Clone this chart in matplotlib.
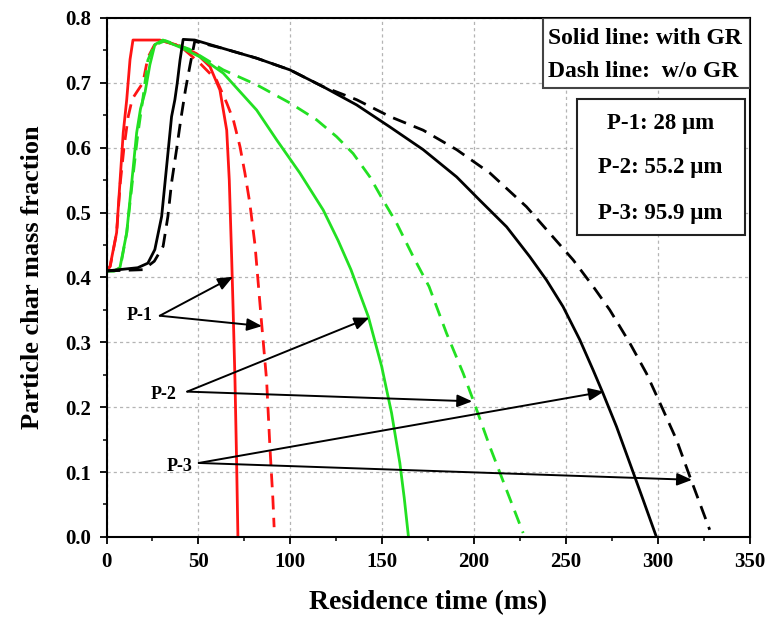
import numpy as np
import matplotlib
matplotlib.use("Agg")
import matplotlib.pyplot as plt
from matplotlib.patches import Rectangle
from matplotlib.ticker import MultipleLocator, FormatStrFormatter

plt.rcParams["font.family"] = ["Liberation Serif", "DejaVu Serif"]
plt.rcParams["font.weight"] = "bold"

# P-1 (red), with GR / w/o GR
p1_solid_t = [0, 1.9, 5.5, 7.3, 9.1, 11, 12.8, 14.4, 29, 41.7, 49, 56.3, 61.7, 65.4, 66.8, 68.1, 68.9, 69.9, 70.8, 71.5]
p1_solid_y = [0.41, 0.417, 0.469, 0.546, 0.623, 0.674, 0.736, 0.766, 0.766, 0.755, 0.745, 0.725, 0.689, 0.627, 0.55, 0.43, 0.35, 0.242, 0.114, 0.0]
p1_dash_t = [0, 2, 5.5, 7.5, 9.5, 11.8, 14, 16.5, 19.8, 22.5, 26, 30, 40, 50.9, 59.9, 65.4, 69, 72.6, 75.3, 78, 80.8, 84.4, 87.1, 88.9, 90.5, 91.2]
p1_dash_y = [0.41, 0.417, 0.469, 0.546, 0.60, 0.648, 0.675, 0.686, 0.70, 0.739, 0.758, 0.765, 0.757, 0.730, 0.704, 0.669, 0.643, 0.602, 0.561, 0.514, 0.45, 0.329, 0.242, 0.139, 0.06, 0.015]

# P-2 (green)
p2_solid_t = [0, 4, 7.3, 11, 13.7, 16.4, 18.5, 21, 23.6, 26.3, 30.7, 40.8, 50.9, 63.5, 81.7, 92.6, 105.2, 117.9, 126, 133, 142.4, 149.7, 155.1, 159.6, 162, 164.3]
p2_solid_y = [0.41, 0.41, 0.415, 0.469, 0.546, 0.623, 0.66, 0.686, 0.728, 0.759, 0.766, 0.754, 0.740, 0.715, 0.658, 0.612, 0.561, 0.504, 0.457, 0.412, 0.340, 0.263, 0.191, 0.114, 0.06, 0.0]
p2_dash_t = [0, 4.5, 7.5, 11, 14, 17, 20, 22.5, 26, 32, 45, 63.5, 81.7, 99.8, 114.3, 125.2, 134.2, 143.3, 150.5, 157.8, 166.9, 175.5, 185, 194.1, 199.5, 208.6, 217.7, 226.7]
p2_dash_y = [0.41, 0.41, 0.415, 0.469, 0.546, 0.62, 0.68, 0.735, 0.758, 0.765, 0.752, 0.720, 0.697, 0.669, 0.643, 0.617, 0.591, 0.555, 0.519, 0.484, 0.432, 0.386, 0.314, 0.252, 0.211, 0.139, 0.072, 0.006]

# P-3 (black)
p3_solid_t = [0, 17, 22.5, 26.3, 30, 32.7, 35.4, 37.2, 38.5, 40, 41.7, 48, 63.5, 81.7, 99.8, 117.9, 136.1, 154.2, 172.3, 190.5, 203.1, 217.7, 230.3, 239.4, 248.4, 257.5, 264.8, 270.2, 277.5, 284.7, 292, 299.2]
p3_solid_y = [0.41, 0.415, 0.422, 0.443, 0.494, 0.571, 0.648, 0.674, 0.70, 0.735, 0.767, 0.766, 0.753, 0.738, 0.720, 0.694, 0.666, 0.632, 0.597, 0.555, 0.519, 0.478, 0.432, 0.396, 0.355, 0.304, 0.257, 0.221, 0.170, 0.114, 0.057, 0.0]
p3_dash_t = [0, 20, 26, 30.8, 33.4, 35.4, 38.1, 40.5, 43, 45.5, 48, 63.5, 81.7, 99.8, 117.9, 136.1, 154.2, 172.3, 190.5, 208.6, 228.5, 241.2, 253.9, 264.8, 273.8, 284.7, 293.8, 302.8, 310.1, 317.4, 322.8, 328.2]
p3_dash_y = [0.41, 0.412, 0.425, 0.448, 0.494, 0.546, 0.597, 0.645, 0.69, 0.728, 0.764, 0.753, 0.738, 0.720, 0.694, 0.674, 0.648, 0.627, 0.597, 0.561, 0.509, 0.468, 0.427, 0.386, 0.350, 0.299, 0.252, 0.196, 0.150, 0.093, 0.052, 0.011]

red = "#ff1414"
green = "#22e022"
black = "#000000"

fig = plt.figure(figsize=(7.69, 6.2), dpi=100)
ax = fig.add_axes([0.1385, 0.134, 0.8365, 0.837])

lw = 2.0
dash = (5, 3)
ax.plot(p1_solid_t, p1_solid_y, color=red, lw=lw)
ax.plot(p1_dash_t, p1_dash_y, color=red, lw=lw, dashes=dash)
ax.plot(p2_solid_t, p2_solid_y, color=green, lw=lw)
ax.plot(p2_dash_t, p2_dash_y, color=green, lw=lw, dashes=dash)
ax.plot(p3_solid_t, p3_solid_y, color=black, lw=lw)
ax.plot(p3_dash_t, p3_dash_y, color=black, lw=lw, dashes=dash)

ax.set_xlim(0, 350)
ax.set_ylim(0, 0.8)
ax.xaxis.set_major_locator(MultipleLocator(50))
ax.xaxis.set_minor_locator(MultipleLocator(25))
ax.yaxis.set_major_locator(MultipleLocator(0.1))
ax.yaxis.set_minor_locator(MultipleLocator(0.05))
ax.yaxis.set_major_formatter(FormatStrFormatter("%.1f"))
ax.grid(True, which="major", color="#b4b4b4", lw=0.9, linestyle=(0, (2.5, 2.5)))
ax.set_axisbelow(True)
ax.tick_params(which="major", direction="out", length=5, width=1.3, labelsize=15, pad=6)
ax.tick_params(which="minor", direction="out", length=3, width=1.1)
for s in ax.spines.values():
    s.set_linewidth(1.5)

ax.set_xlabel("Residence time (ms)", fontsize=20, fontweight="bold", labelpad=13)
ax.set_ylabel("Particle char mass fraction", fontsize=19, fontweight="bold", labelpad=15)

# boxed notes
ax.add_patch(Rectangle((0.679, 0.866), 0.321, 0.134, transform=ax.transAxes,
                       facecolor="white", edgecolor="#444444", lw=1.5, zorder=5))
ax.text(0.687, 0.961, "Solid line: with GR", transform=ax.transAxes, fontsize=17,
        fontweight="bold", va="center", ha="left", zorder=6)
ax.text(0.687, 0.897, "Dash line:  w/o GR", transform=ax.transAxes, fontsize=17,
        fontweight="bold", va="center", ha="left", zorder=6)

ax.add_patch(Rectangle((0.7316, 0.582), 0.2617, 0.262, transform=ax.transAxes,
                       facecolor="white", edgecolor="#222222", lw=1.5, zorder=5))
for yy, s in zip([0.797, 0.711, 0.624], ["P-1: 28 μm", "P-2: 55.2 μm", "P-3: 95.9 μm"]):
    ax.text(0.861, yy, s, transform=ax.transAxes, fontsize=16.5, fontweight="bold",
            va="center", ha="center", zorder=6)

# arrow labels
arrow = dict(arrowstyle="-|>,head_length=0.6,head_width=0.25", color="black",
             lw=1.4, mutation_scale=15, shrinkA=0, shrinkB=0)
labels = [
    ("P-1", (18.2, 0.342), (29, 0.341), [(68.8, 0.401), (84.6, 0.325)]),
    ("P-2", (31.3, 0.220), (43.9, 0.224), [(143, 0.338), (199, 0.209)]),
    ("P-3", (40.0, 0.108), (50.2, 0.114), [(270.6, 0.224), (318.6, 0.088)]),
]
for name, tpos, start, tips in labels:
    ax.text(tpos[0], tpos[1], name, fontsize=13, fontweight="bold", ha="center", va="center")
    for tip in tips:
        ax.annotate("", xy=tip, xytext=start, arrowprops=arrow)

fig.savefig("out.png", dpi=100)
